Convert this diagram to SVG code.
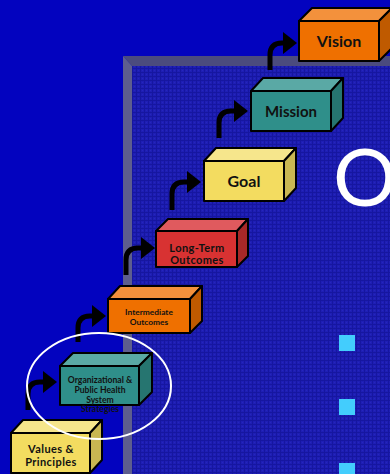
<svg xmlns="http://www.w3.org/2000/svg" width="390" height="474" viewBox="0 0 390 474">
  <defs>
    <pattern id="weave" width="4" height="4" patternUnits="userSpaceOnUse">
      <rect width="4" height="4" fill="#1e1eb4"/>
      <rect x="0" y="0" width="4" height="1" fill="#1616a0"/>
      <rect x="0" y="0" width="1" height="4" fill="#1616a0"/>
      <rect x="2" y="2" width="1" height="1" fill="#2626bc"/>
    </pattern>
    <style>
      .edge { stroke: #000; stroke-width: 2; stroke-linejoin: round; }
      .lbl { font-family: Lato, "Open Sans", "DejaVu Sans", sans-serif; font-weight: bold; fill: #111; text-anchor: middle; }
      .wide { letter-spacing: 0.4px; }
      .arrow { fill: none; stroke: #000; stroke-width: 5; }
      .head { fill: #000; }
      .orange .front { fill: #ef7000; } .orange .top { fill: #f3913c; } .orange .side { fill: #bf5a00; }
      .teal .front { fill: #2f8f8a; } .teal .top { fill: #5aa9a5; } .teal .side { fill: #267570; }
      .yellow .front { fill: #f3dc60; } .yellow .top { fill: #f6e68c; } .yellow .side { fill: #c9b752; }
      .red .front { fill: #d83232; } .red .top { fill: #e05a5e; } .red .side { fill: #a82828; }
    </style>
  </defs>

  <!-- backdrop -->
  <rect width="390" height="474" fill="#0303bf"/>

  <!-- framed panel with bevelled border -->
  <g id="panel">
    <polygon points="123,56 390,56 390,66 132,66" fill="#4b4b7e"/>
    <polygon points="123,56 132,66 132,474 123,474" fill="#5e5e8e"/>
    <rect x="132" y="66" width="258" height="408" fill="url(#weave)"/>
    <text x="333" y="206" font-family="Lato, 'Open Sans', sans-serif" font-size="80" fill="#ffffff">O</text>
    <rect x="339" y="335" width="16" height="16" fill="#43cdfd"/>
    <rect x="339" y="399" width="16" height="16" fill="#43cdfd"/>
    <rect x="339" y="463" width="16" height="16" fill="#43cdfd"/>
  </g>

  <!-- bent step arrows -->
  <g id="connectors">
    <path class="arrow" d="M28,410 V394 Q28,382 40,382 H44"/>
    <polygon class="head" points="43,371 57,382 43,393"/>
    <path class="arrow" d="M78,342 V328 Q78,316 90,316 H94"/>
    <polygon class="head" points="92,305 106,316 92,327"/>
    <path class="arrow" d="M126,275 V260 Q126,248 138,248 H142"/>
    <polygon class="head" points="141,237 155,248 141,259"/>
    <path class="arrow" d="M172,210 V194 Q172,182 184,182 H188"/>
    <polygon class="head" points="187,171 201,182 187,193"/>
    <path class="arrow" d="M219,138 V123 Q219,111 231,111 H235"/>
    <polygon class="head" points="234,100 248,111 234,122"/>
    <path class="arrow" d="M270,70 V55 Q270,43 282,43 H285"/>
    <polygon class="head" points="283,32 297,43 283,54"/>
  </g>

  <!-- steps -->
  <g id="values" class="yellow">
    <polygon class="top edge" points="11,433 23,420 102,420 90,433"/>
    <polygon class="side edge" points="90,433 102,420 102,460 90,473"/>
    <rect class="front edge" x="11" y="433" width="79" height="40"/>
    <text class="lbl wide" x="51" y="453" font-size="11">Values &amp;</text>
    <text class="lbl wide" x="51" y="466" font-size="11">Principles</text>
  </g>

  <g id="strategies" class="teal">
    <polygon class="top edge" points="60,366 73,353 152,353 139,366"/>
    <polygon class="side edge" points="139,366 152,353 152,392 139,405"/>
    <rect class="front edge" x="60" y="366" width="79" height="39"/>
    <text class="lbl" x="100" y="383" font-size="8.6">Organizational &amp;</text>
    <text class="lbl" x="100" y="393" font-size="8.6">Public Health</text>
    <text class="lbl" x="100" y="403" font-size="8.6">System</text>
    <text class="lbl" x="100" y="412" font-size="8.6">Strategies</text>
  </g>

  <g id="intermediate" class="orange">
    <polygon class="top edge" points="108,299 120,286 202,286 190,299"/>
    <polygon class="side edge" points="190,299 202,286 202,321 190,333"/>
    <rect class="front edge" x="108" y="299" width="82" height="34"/>
    <text class="lbl" x="149" y="315" font-size="8.4">Intermediate</text>
    <text class="lbl" x="149" y="325" font-size="8.4">Outcomes</text>
  </g>

  <g id="longterm" class="red">
    <polygon class="top edge" points="156,231 168,219 248,219 237,231"/>
    <polygon class="side edge" points="237,231 248,219 248,256 237,267"/>
    <rect class="front edge" x="156" y="231" width="81" height="36"/>
    <text class="lbl wide" x="197" y="252" font-size="11">Long-Term</text>
    <text class="lbl wide" x="197" y="264" font-size="11">Outcomes</text>
  </g>

  <g id="goal" class="yellow">
    <polygon class="top edge" points="204,161 216,148 296,148 284,161"/>
    <polygon class="side edge" points="284,161 296,148 296,188 284,201"/>
    <rect class="front edge" x="204" y="161" width="80" height="40"/>
    <text class="lbl" x="244" y="187" font-size="16">Goal</text>
  </g>

  <g id="mission" class="teal">
    <polygon class="top edge" points="251,91 263,78 343,78 331,91"/>
    <polygon class="side edge" points="331,91 343,78 343,118 331,131"/>
    <rect class="front edge" x="251" y="91" width="80" height="40"/>
    <text class="lbl" x="291" y="117" font-size="15">Mission</text>
  </g>

  <g id="vision" class="orange">
    <polygon class="top edge" points="299,21 312,8 392,8 379,21"/>
    <polygon class="side edge" points="379,21 392,8 392,48 379,61"/>
    <rect class="front edge" x="299" y="21" width="80" height="40"/>
    <text class="lbl" x="339" y="47" font-size="16">Vision</text>
  </g>

  <!-- highlight ring -->
  <ellipse id="highlight" cx="99" cy="386" rx="72" ry="53" fill="none" stroke="#ffffff" stroke-width="2"/>
</svg>
